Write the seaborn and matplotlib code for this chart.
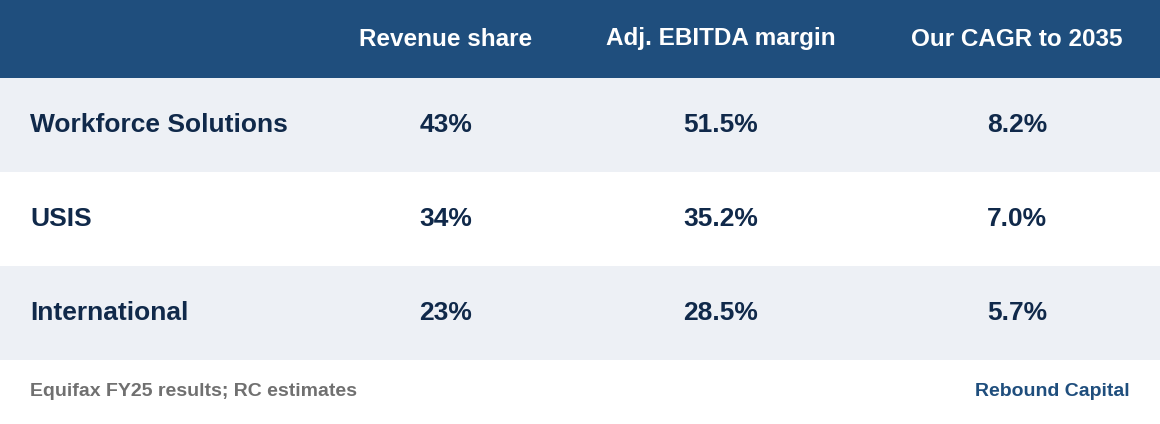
import matplotlib
matplotlib.use("Agg")
import matplotlib.pyplot as plt
import seaborn as sns

sns.set_theme(style="white")
plt.rcParams["font.family"] = ["Liberation Sans", "DejaVu Sans"]

columns = ["Revenue share", "Adj. EBITDA margin", "Our CAGR to 2035"]
segments = ["Workforce Solutions", "USIS", "International"]
revenue_share = ["43%", "34%", "23%"]
ebitda_margin = ["51.5%", "35.2%", "28.5%"]
cagr = ["8.2%", "7.0%", "5.7%"]
source = "Equifax FY25 results; RC estimates"
brand = "Rebound Capital"

header_col = "#1f4e7d"
band_col = "#edf0f5"
text_col = "#10294a"

fig = plt.figure(figsize=(11.6, 4.24), dpi=100)
ax = fig.add_axes([0, 0, 1, 1])
ax.set_xlim(0, 1160)
ax.set_ylim(424, 0)
ax.axis("off")

col_x = [446, 721, 1017]
head_h = 78
row_h = 94

ax.axhspan(0, head_h, color=header_col, lw=0)
for x, c in zip(col_x, columns):
    ax.text(x, head_h / 2, c, ha="center", va="center", color="white",
            fontsize=17.5, fontweight="bold")

values = [revenue_share, ebitda_margin, cagr]
for i, seg in enumerate(segments):
    top = head_h + i * row_h
    if i % 2 == 0:
        ax.axhspan(top, top + row_h, color=band_col, lw=0)
    yc = top + row_h / 2
    ax.text(30, yc, seg, ha="left", va="center", color=text_col,
            fontsize=19, fontweight="bold")
    for x, col in zip(col_x, values):
        ax.text(x, yc, col[i], ha="center", va="center", color=text_col,
                fontsize=19, fontweight="bold")

ax.text(30, 392, source, ha="left", va="center", color="#707070",
        fontsize=14, fontweight="bold")
ax.text(1130, 392, brand, ha="right", va="center", color=header_col,
        fontsize=14, fontweight="bold")

fig.savefig("out.png", dpi=100)
